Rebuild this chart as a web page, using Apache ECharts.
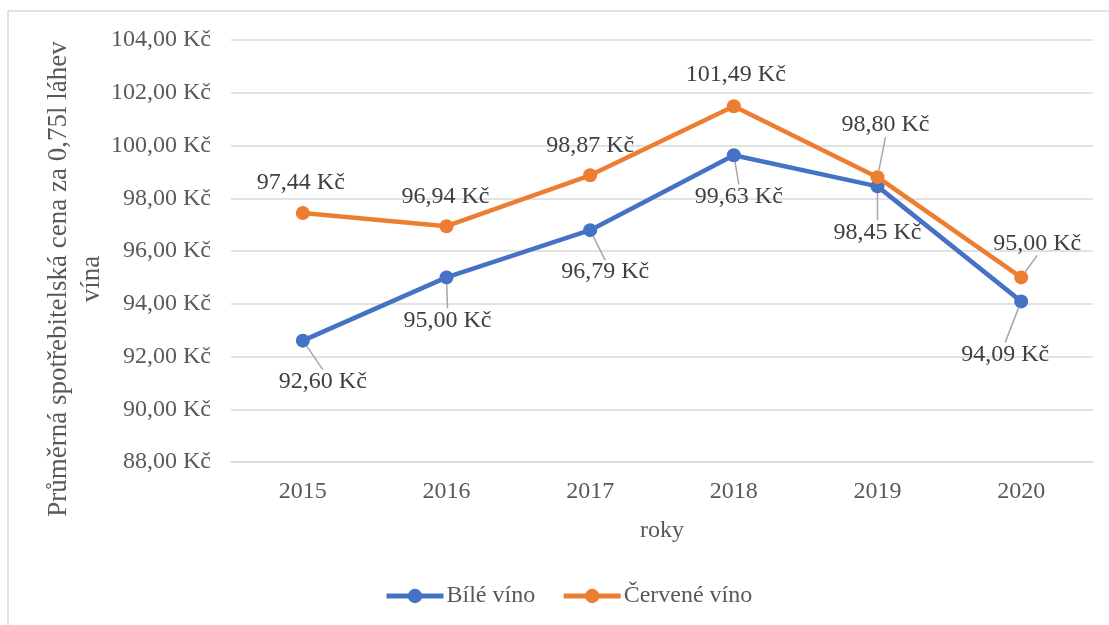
<!DOCTYPE html>
<html>
<head>
<meta charset="utf-8">
<script src="https://cdn.jsdelivr.net/npm/echarts@6/dist/echarts.min.js"></script>
<style>
html,body{margin:0;padding:0;background:#fff;}
#chart{width:1109px;height:625px;}
</style>
</head>
<body>
<div id="chart"></div>
<script>
// ---- data ----
var categories = ['2015', '2016', '2017', '2018', '2019', '2020'];
var bileVino = [92.60, 95.00, 96.79, 99.63, 98.45, 94.09];
var cerveneVino = [97.44, 96.94, 98.87, 101.49, 98.80, 95.00];
var seriesNames = ['Bílé víno', 'Červené víno'];
var yAxisTitle = ['Průměrná spotřebitelská cena za 0,75l láhev', 'vína'];
var xAxisTitle = 'roky';

// ---- label placement (layout only) ----
var labelOffsets = [
  [[20, 41], [1, 43], [15, 42], [5, 41], [0, 46], [-16, 53]],
  [[-2, -30], [-1, -30], [0, -30], [2, -31], [8, -52], [16, -34]]
];
var showLeader = [
  [true, true, true, true, true, true],
  [false, false, false, false, true, true]
];

var FONT = '"Liberation Serif", "Times New Roman", serif';
var fmt = function (v) { return v.toFixed(2).replace('.', ',') + ' Kč'; };

function buildData(values, si) {
  return values.map(function (v, i) {
    return { value: v, labelLine: { show: showLeader[si][i] } };
  });
}

var chart = echarts.init(document.getElementById('chart'), null, { renderer: 'canvas' });
var colors = ['#4472C4', '#ED7D31'];

function makeSeries(name, values, si) {
  return {
    name: name,
    type: 'line',
    data: buildData(values, si),
    symbol: 'circle',
    symbolSize: 14,
    lineStyle: { width: 4.5, color: colors[si] },
    itemStyle: { color: colors[si] },
    label: {
      show: true,
      position: 'inside',
      formatter: function (p) { return fmt(p.value); },
      fontFamily: FONT,
      fontSize: 24,
      color: '#404040'
    },
    labelLine: { show: true, lineStyle: { color: '#a6a6a6', width: 1.5 } },
    labelLayout: function (p) {
      var o = labelOffsets[p.seriesIndex][p.dataIndex];
      return { dx: o[0], dy: o[1] };
    },
    emphasis: { disabled: true },
    animation: false,
    z: 2 + si
  };
}

chart.setOption({
  backgroundColor: '#fff',
  animation: false,
  color: colors,
  grid: { left: 231, right: 16, top: 40, bottom: 163, containLabel: false },
  xAxis: {
    type: 'category',
    data: categories,
    boundaryGap: true,
    axisLine: { show: true, lineStyle: { color: '#d9d9d9', width: 1.5 } },
    axisTick: { show: false },
    axisLabel: { fontFamily: FONT, fontSize: 24, color: '#595959', margin: 18 },
    name: xAxisTitle,
    nameLocation: 'middle',
    nameGap: 57,
    nameTextStyle: { fontFamily: FONT, fontSize: 24, color: '#595959' }
  },
  yAxis: {
    type: 'value',
    min: 88,
    max: 104,
    interval: 2,
    axisLine: { show: false },
    axisTick: { show: false },
    splitLine: { lineStyle: { color: '#d9d9d9', width: 1.5 } },
    axisLabel: { fontFamily: FONT, fontSize: 24, color: '#595959', margin: 20, formatter: fmt }
  },
  legend: {
    data: seriesNames,
    bottom: 12,
    left: 379,
    itemWidth: 57,
    itemHeight: 18,
    itemGap: 26,
    lineStyle: { width: 5 },
    textStyle: { fontFamily: FONT, fontSize: 24, color: '#595959', padding: [0, 0, 0, -2] }
  },
  graphic: [
    {
      type: 'rect',
      shape: { x: 8, y: 11, width: 1200, height: 700 },
      style: { fill: 'none', stroke: '#d9d9d9', lineWidth: 1.5 },
      silent: true,
      z: -1
    },
    {
      type: 'text',
      x: 59,
      y: 279,
      rotation: Math.PI / 2,
      style: {
        text: yAxisTitle[0],
        fontFamily: FONT,
        fontSize: 27,
        fill: '#595959',
        align: 'center',
        verticalAlign: 'middle'
      }
    },
    {
      type: 'text',
      x: 92,
      y: 279,
      rotation: Math.PI / 2,
      style: {
        text: yAxisTitle[1],
        fontFamily: FONT,
        fontSize: 27,
        fill: '#595959',
        align: 'center',
        verticalAlign: 'middle'
      }
    }
  ],
  series: [
    makeSeries(seriesNames[0], bileVino, 0),
    makeSeries(seriesNames[1], cerveneVino, 1)
  ]
});
</script>
</body>
</html>
